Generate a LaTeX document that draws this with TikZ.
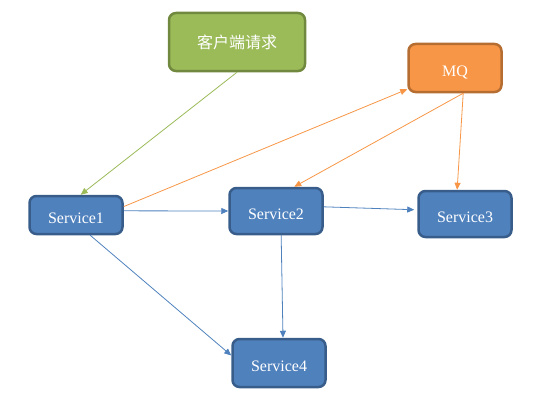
\documentclass[tikz,border=0pt]{standalone}
\usepackage{fontspec}
\setmainfont{Liberation Serif}
\newfontfamily\cjk{Noto Sans CJK SC}
\usepackage{tikz}
\usetikzlibrary{arrows.meta}
\definecolor{blueF}{HTML}{4F81BD}
\definecolor{blueD}{HTML}{385D8A}
\definecolor{greenF}{HTML}{9BBB59}
\definecolor{greenD}{HTML}{71893F}
\definecolor{orangeF}{HTML}{F79646}
\definecolor{orangeD}{HTML}{B66D31}

\begin{document}
\begin{tikzpicture}[x=1pt,y=-1pt,
   font=\fontsize{16}{19}\selectfont,
   box/.style={draw,line width=2.5pt,rounded corners=7pt,text=white,inner sep=0pt,minimum width=93pt,minimum height=46pt},
   svc/.style={box,fill=blueF,draw=blueD,text height=17pt,text depth=0pt},
   flow/.style={-{Triangle[length=7pt,width=6pt]},line width=0.8pt},
   blueflow/.style={flow,blueF},
   orangeflow/.style={flow,orangeF},
   greenflow/.style={flow,greenF}]
\useasboundingbox (0,0) rectangle (540,412);
\node[box,fill=greenF,draw=greenD,minimum width=136pt,minimum height=58pt] (client) at (237,42) {\cjk 客户端请求};
\node[box,fill=orangeF,draw=orangeD,minimum height=48pt,text height=17pt,text depth=0pt] (MQ) at (455,68) {MQ};
\node[svc,minimum height=38pt] (S_{1}) at (76,215) {Service1};
\node[svc] (S_{2}) at (276,211) {Service2};
\node[svc] (S_{3}) at (465,214) {Service3};
\node[svc,minimum height=48pt] (S_{4}) at (279,363) {Service4};
\draw[greenflow]  (client.south) to (S_{1}.77);
\draw[orangeflow] (S_{1}.10) to (MQ.204);
\draw[orangeflow] (MQ.288) to (S_{2}.53);
\draw[orangeflow] (MQ.288) to (S_{3}.108);
\draw[blueflow]   (S_{1}.5) to (S_{2}.west);
\draw[blueflow,shorten >=3pt]   (S_{2}.5) to (S_{3}.175);
\draw[blueflow]   (S_{2}.282) to (S_{4}.81);
\draw[blueflow]   (S_{1}.305) to (S_{4}.171);
\end{tikzpicture}
\end{document}
